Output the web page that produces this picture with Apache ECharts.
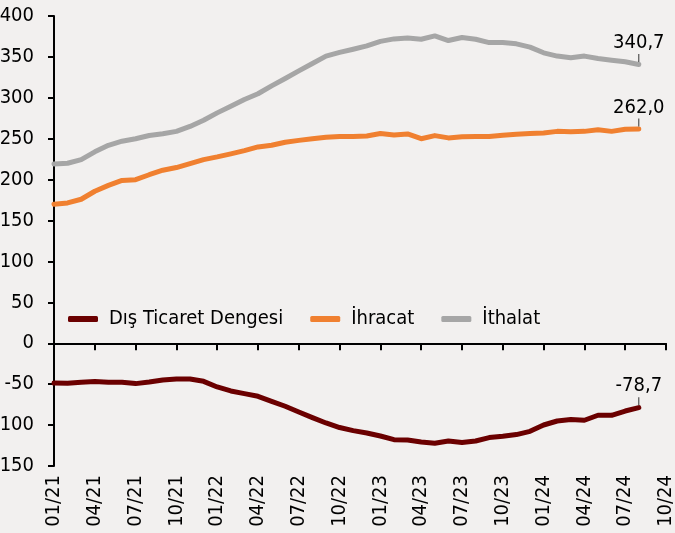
<!DOCTYPE html>
<html>
<head>
<meta charset="utf-8">
<script src="https://cdn.jsdelivr.net/npm/echarts@6/dist/echarts.min.js"></script>
<style>
  html, body { margin: 0; padding: 0; background: #f2f0ef; }
  #chart { width: 675px; height: 533px; }
</style>
</head>
<body>
<div id="chart"></div>
<script>
// aylar (x ekseni)
var months = [
  '01/21','02/21','03/21','04/21','05/21','06/21','07/21','08/21','09/21','10/21','11/21','12/21',
  '01/22','02/22','03/22','04/22','05/22','06/22','07/22','08/22','09/22','10/22','11/22','12/22',
  '01/23','02/23','03/23','04/23','05/23','06/23','07/23','08/23','09/23','10/23','11/23','12/23',
  '01/24','02/24','03/24','04/24','05/24','06/24','07/24','08/24','09/24','10/24'
];

var seriesNames = ['Dış Ticaret Dengesi', 'İhracat', 'İthalat'];

var denge = [-48.5, -49, -47.7, -46.8, -47.7, -47.7, -49.3, -47.3, -44.8, -43.6, -43.6, -46.5,
  -53.4, -58.3, -61.5, -64.8, -70.9, -77, -84, -90.9, -97.4, -103, -106.8, -109.6,
  -113.3, -117.8, -118.2, -120.6, -122.2, -119.4, -121.4, -119.4, -115.3, -113.7, -111.6, -107.6,
  -99.9, -95, -93.3, -94.1, -88, -88, -82.8, -78.7];

var ihracat = [170, 171.5, 176, 185.8, 193, 199, 200, 206, 211.5, 214.8, 219.6, 224.5,
  227.8, 231.5, 235.5, 240, 242, 245.7, 248, 250, 251.8, 252.6, 252.6, 253.4,
  256.3, 254.6, 255.9, 250, 253.8, 251, 252.3, 252.6, 252.6, 254.3, 255.5, 256.3,
  257, 259, 258.6, 259, 261, 259, 261.6, 262.0];

var ithalat = [219, 220, 224.5, 234, 242, 247, 250, 254, 256, 259, 265, 272.6,
  281.6, 289.7, 298, 305, 314.6, 323.6, 333, 342, 351, 355.5, 359.4, 363.5,
  369, 372, 373, 371.6, 375.7, 370, 373.7, 371.6, 367.5, 367.5, 366, 362,
  355, 351, 349, 351, 348, 346, 344, 340.7];

var colors = ['#6b0000', '#f08030', '#a6a6a6'];
var FONT = 'DejaVu Sans Condensed';
var FS = 20;

// son noktaya etiket (virgüllü)
function withEndLabel(arr) {
  return arr.map(function (v, i) {
    if (i !== arr.length - 1) return v;
    return {
      value: v,
      label: {
        show: true,
        position: 'top',
        distance: 2,
        formatter: function (p) {
          return '{v|' + p.value.toFixed(1).replace('.', ',') + '}\n{t|}';
        },
        rich: {
          v: { fontFamily: FONT, fontSize: FS, color: '#000', align: 'center', lineHeight: 22 },
          t: { width: 1, height: 8, backgroundColor: '#333', align: 'center' }
        }
      }
    };
  });
}

var chart = echarts.init(document.getElementById('chart'), null, { renderer: 'canvas' });

function lineSeries(name, arr, color) {
  return {
    name: name,
    type: 'line',
    data: withEndLabel(arr),
    xAxisIndex: 0,
    symbol: 'circle',
    symbolSize: 1,
    showSymbol: true,
    smooth: false,
    lineStyle: { color: color, width: 5, cap: 'round', join: 'round' },
    itemStyle: { color: color },
    animation: false
  };
}

chart.setOption({
  backgroundColor: '#f2f0ef',
  color: colors,
  animation: false,
  grid: { left: 54, right: 9, top: 16, bottom: 67, containLabel: false, outerBoundsMode: 'none' },
  legend: {
    data: seriesNames,
    left: 63,
    top: 304,
    icon: 'roundRect',
    itemWidth: 30,
    itemHeight: 6,
    itemGap: 27,
    textStyle: { fontFamily: FONT, fontSize: FS, color: '#000', padding: [0, 0, 0, 6] }
  },
  xAxis: [
    {
      type: 'category',
      data: months,
      boundaryGap: false,
      axisLine: { onZero: true, lineStyle: { color: '#000', width: 2 } },
      axisTick: { show: true, interval: 2, length: 7, lineStyle: { color: '#000', width: 2 } },
      axisLabel: { show: false },
      splitLine: { show: false }
    },
    {
      type: 'category',
      data: months,
      position: 'bottom',
      boundaryGap: false,
      axisLine: { show: false, onZero: false },
      axisTick: { show: false },
      axisLabel: {
        show: true, interval: 2, rotate: 90, margin: 9,
        fontFamily: FONT, fontSize: FS, color: '#000'
      },
      splitLine: { show: false }
    }
  ],
  yAxis: {
    type: 'value',
    min: -150,
    max: 400,
    interval: 50,
    axisLine: { show: true, lineStyle: { color: '#000', width: 2 } },
    axisTick: { show: true, length: 6, lineStyle: { color: '#000', width: 2 } },
    axisLabel: { margin: 20, fontFamily: FONT, fontSize: FS, color: '#000' },
    splitLine: { show: false }
  },
  series: [
    lineSeries(seriesNames[0], denge, colors[0]),
    lineSeries(seriesNames[1], ihracat, colors[1]),
    lineSeries(seriesNames[2], ithalat, colors[2])
  ]
});
</script>
</body>
</html>
